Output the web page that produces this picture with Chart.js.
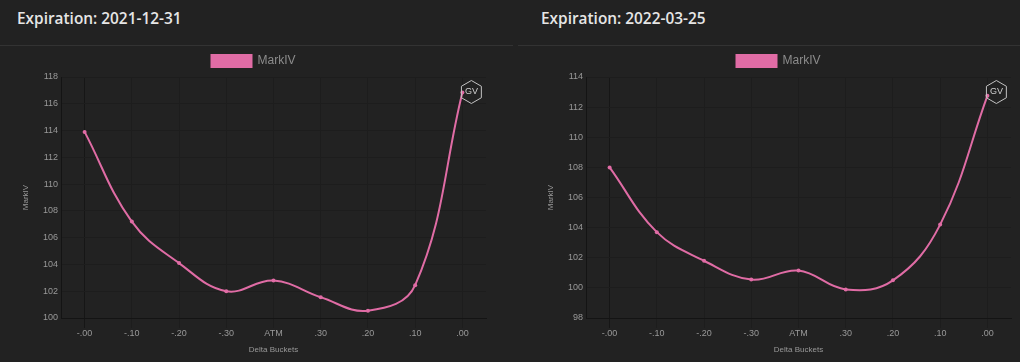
<!DOCTYPE html>
<html>
<head>
<meta charset="utf-8">
<script src="https://cdn.jsdelivr.net/npm/chart.js@4"></script>
<style>
    html, body { margin: 0; padding: 0; background: #222222; overflow: hidden; }
    .panel { position: absolute; top: 0; height: 362px; }
    .panel h3 { position: absolute; left: 17px; top: 8px; margin: 0; font: 600 15.4px "Open Sans", sans-serif; color: #e6e6e6; white-space: nowrap; }
    .panel .rule { position: absolute; left: 0; right: 0; top: 45px; height: 1px; background: #333333; }
    .panel canvas { position: absolute; left: 0; top: 46px; }
</style>
</head>
<body>
<div class="panel" style="left:0;width:513px">
    <h3>Expiration: 2021-12-31</h3><div class="rule"></div><canvas id="chartLeft" width="513" height="316"></canvas>
</div>
<div class="panel" style="left:518px;width:502px">
    <h3 style="left:23px">Expiration: 2022-03-25</h3><div class="rule"></div><canvas id="chartRight" width="502" height="316"></canvas>
</div>
<script>
const deltaBuckets = ['-.00', '-.10', '-.20', '-.30', 'ATM', '.30', '.20', '.10', '.00'];
const markIvLeft = [113.9, 107.2, 104.1, 102.0, 102.8, 101.55, 100.55, 102.45, 116.85];
const markIvRight = [108.0, 103.7, 101.8, 100.55, 101.15, 99.9, 100.5, 104.2, 112.75];

const gridColor = ctx => ctx.index === 0 ? '#161616' : '#1d1d1d';

// little GV hexagon, sits at the same height near the top right of both charts
const gvBadge = {
    id: 'gvBadge',
    afterDatasetsDraw(chart) {
        const pts = chart.getDatasetMeta(0).data;
        const last = pts[pts.length - 1];
        const ctx = chart.ctx;
        const cx = last.x + 9, cy = chart.chartArea.top + 15;
        ctx.save();
        ctx.beginPath();
        for (let i = 0; i < 6; i++) {
            const a = Math.PI / 6 + i * Math.PI / 3;
            const px = cx + 11.5 * Math.cos(a), py = cy + 11.5 * Math.sin(a);
            if (i === 0) ctx.moveTo(px, py); else ctx.lineTo(px, py);
        }
        ctx.closePath();
        ctx.strokeStyle = '#c4c4c4';
        ctx.lineWidth = 1;
        ctx.stroke();
        ctx.fillStyle = '#d0d0d0';
        ctx.font = '9px "Liberation Sans", Arial, sans-serif';
        ctx.textAlign = 'center';
        ctx.textBaseline = 'middle';
        ctx.fillText('GV', cx, cy);
        ctx.restore();
    }
};

function drawSmileChart(id, values, yMin, yMax, leftPad, rightPad) {
    var ctx = document.getElementById(id).getContext('2d');
    return new Chart(ctx, {
        type: 'line',
        data: {
            labels: deltaBuckets,
            datasets: [{
                label: 'MarkIV',
                data: values,
                borderColor: '#e06ca5',
                backgroundColor: '#e06ca5',
                borderWidth: 2,
                pointRadius: 2,
                pointBorderWidth: 0,
                pointBackgroundColor: '#e06ca5',
                tension: 0.4,
                fill: false
            }]
        },
        plugins: [gvBadge],
        options: {
            responsive: false,
            animation: false,
            layout: { padding: { left: leftPad, right: rightPad, top: 1, bottom: 0 } },
            scales: {
                x: {
                    offset: true,
                    afterFit(scale) { scale.height = 44; },
                    title: { display: true, text: 'Delta Buckets', color: '#999999', font: { size: 8, family: '"Liberation Sans", Arial' }, padding: { top: 4, bottom: 7 } },
                    ticks: { color: '#999999', font: { size: 9, family: '"Liberation Sans", Arial' }, maxRotation: 0, padding: 0 },
                    grid: { color: gridColor, tickLength: 10 },
                    border: { color: '#141414' }
                },
                y: {
                    min: yMin,
                    max: yMax,
                    afterFit(scale) { scale.width = 40; },
                    title: { display: true, text: 'MarkIV', color: '#999999', font: { size: 8, family: '"Liberation Sans", Arial' }, padding: 0 },
                    ticks: { stepSize: 2, color: '#999999', font: { size: 9, family: '"Liberation Sans", Arial' } },
                    grid: { color: gridColor, drawTicks: false },
                    border: { color: '#141414' }
                }
            },
            plugins: {
                tooltip: { enabled: false },
                legend: {
                    display: true,
                    position: 'top',
                    labels: { boxWidth: 40, boxHeight: 12, color: '#8c8c8c', font: { size: 12, family: '"Liberation Sans", Arial' }, padding: 8 }
                }
            }
        }
    });
}

document.addEventListener('DOMContentLoaded', function() {
    drawSmileChart('chartLeft', markIvLeft, 100, 118, 21, 27);
    drawSmileChart('chartRight', markIvRight, 98, 114, 28, 9);
});
</script>
</body>
</html>
